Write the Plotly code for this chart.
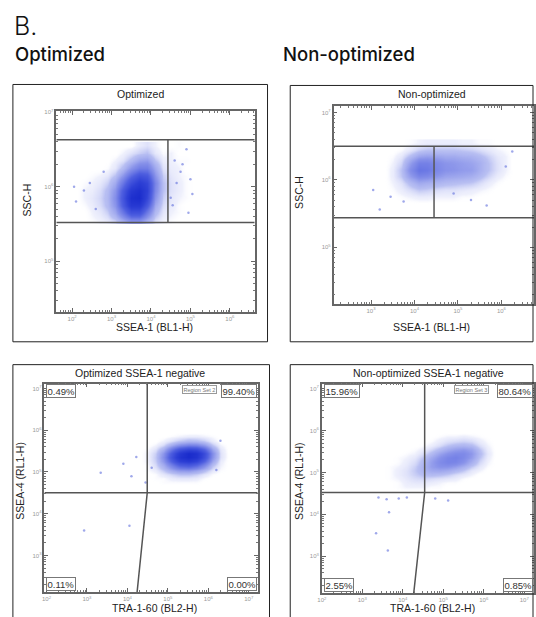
import plotly.graph_objects as go

W, H = 536, 617

# ---------------- values (log10 units) ----------------
# Panel A: Optimized, SSC-H vs SSEA-1 (BL1-H) -- event density, rows listed top -> bottom
opt_ssea1_x_edges = [2.0, 2.2, 2.4, 2.6, 2.8, 3.0, 3.2, 3.4, 3.6, 3.8, 4.0, 4.2, 4.4, 4.6, 4.8, 5.0, 5.2]
opt_ssea1_y_edges = [6.6, 6.5, 6.4, 6.3, 6.2, 6.1, 6.0, 5.9, 5.8, 5.7, 5.6, 5.5]
opt_ssea1_density = [
    [0, 0, 0, 0, 0, 0, 0, 0, 0.3, 0.5, 0.2, 0, 0, 0.1, 0, 0],
    [0, 0, 0, 0, 0, 0, 0.2, 0.5, 0.8, 1.0, 0.4, 0.1, 0.2, 0, 0, 0],
    [0, 0, 0, 0, 0, 0.2, 0.5, 1.2, 2.0, 2.2, 1.0, 0.3, 0.2, 0.1, 0.1, 0],
    [0, 0, 0, 0, 0.1, 0.4, 1.2, 2.5, 3.5, 3.5, 1.8, 0.5, 0.3, 0.2, 0, 0],
    [0, 0, 0.1, 0.2, 0.4, 1.0, 2.5, 4.5, 6.0, 5.5, 2.5, 0.8, 0.4, 0.2, 0.1, 0],
    [0, 0.1, 0.2, 0.4, 0.8, 1.8, 4.0, 6.5, 8.0, 7.0, 3.2, 1.0, 0.5, 0.3, 0.1, 0],
    [0, 0.2, 0.3, 0.6, 1.2, 2.5, 5.5, 8.5, 9.5, 7.5, 3.0, 1.0, 0.5, 0.3, 0.1, 0],
    [0, 0.2, 0.4, 0.7, 1.3, 2.8, 6.0, 9.5, 10, 7.0, 2.5, 0.8, 0.4, 0.2, 0.1, 0],
    [0, 0.1, 0.3, 0.6, 1.2, 2.5, 5.5, 8.5, 8.5, 5.5, 1.8, 0.6, 0.3, 0.1, 0, 0],
    [0, 0, 0.2, 0.4, 0.8, 1.8, 3.8, 6.0, 6.0, 3.5, 1.2, 0.4, 0.2, 0.1, 0, 0],
    [0, 0, 0.1, 0.2, 0.4, 0.8, 1.8, 2.8, 2.8, 1.6, 0.6, 0.2, 0.1, 0, 0, 0],
]
opt_ssea1_sparse_x = [2.05, 2.1, 2.3, 2.45, 2.6, 2.8, 4.5, 4.6, 4.65, 4.75, 4.8, 4.9, 4.95, 5.0, 5.05, 4.55]
opt_ssea1_sparse_y = [6.0, 5.8, 5.95, 6.05, 5.7, 6.2, 5.85, 6.35, 6.05, 6.2, 6.3, 6.5, 5.65, 6.1, 5.9, 5.75]
opt_gate_x = 4.43
opt_gate_y = [5.52, 6.63]

# Panel B: Non-optimized, SSC-H vs SSEA-1 (BL1-H)
non_ssea1_x_edges = [3.2, 3.4, 3.6, 3.8, 4.0, 4.2, 4.4, 4.6, 4.8, 5.0, 5.2, 5.4, 5.6, 5.8, 6.0, 6.2, 6.4]
non_ssea1_y_edges = [6.6, 6.5, 6.4, 6.3, 6.2, 6.1, 6.0, 5.9, 5.8, 5.7, 5.6]
non_ssea1_density = [
    [0, 0, 0, 0.1, 0.2, 0.3, 0.3, 0.3, 0.3, 0.2, 0.2, 0.1, 0.1, 0, 0, 0],
    [0, 0, 0.1, 0.4, 0.8, 1.0, 1.0, 1.0, 1.0, 0.9, 0.8, 0.6, 0.4, 0.2, 0.1, 0],
    [0, 0.1, 0.4, 1.2, 2.0, 2.2, 2.0, 1.8, 1.8, 1.6, 1.5, 1.2, 0.8, 0.4, 0.2, 0],
    [0, 0.2, 0.7, 2.2, 3.4, 3.4, 2.9, 2.5, 2.4, 2.2, 2.0, 1.6, 1.0, 0.5, 0.2, 0],
    [0, 0.3, 1.0, 2.8, 4.0, 3.8, 3.1, 2.6, 2.5, 2.3, 2.2, 1.6, 1.0, 0.5, 0.2, 0],
    [0, 0.3, 0.9, 2.2, 3.1, 2.9, 2.4, 2.0, 1.9, 1.8, 1.6, 1.2, 0.7, 0.3, 0.1, 0],
    [0, 0.2, 0.5, 1.2, 1.8, 1.6, 1.4, 1.2, 1.1, 1.0, 0.9, 0.6, 0.3, 0.1, 0, 0],
    [0, 0.1, 0.3, 0.6, 0.9, 0.8, 0.6, 0.5, 0.5, 0.4, 0.3, 0.2, 0.1, 0, 0, 0],
    [0, 0, 0.1, 0.2, 0.3, 0.3, 0.2, 0.2, 0.2, 0.1, 0.1, 0, 0, 0, 0, 0],
    [0, 0, 0, 0, 0, 0, 0, 0, 0, 0, 0, 0, 0, 0, 0, 0],
]
non_ssea1_sparse_x = [3.05, 3.2, 3.45, 5.66, 6.25, 6.1, 5.3, 4.9, 3.75]
non_ssea1_sparse_y = [5.85, 5.56, 5.75, 5.62, 6.42, 6.2, 5.7, 5.8, 5.68]
non_gate_x = 4.45
non_gate_y = [5.44, 6.5]

# Panel C: Optimized SSEA-1 negative, SSEA-4 (RL1-H) vs TRA-1-60 (BL2-H)
opt_tra_x_edges = [4.2, 4.4, 4.6, 4.8, 5.0, 5.2, 5.4, 5.6, 5.8, 6.0, 6.2, 6.4, 6.6]
opt_tra_y_edges = [6.0, 5.9, 5.8, 5.7, 5.6, 5.5, 5.4, 5.3, 5.2, 5.1, 5.0, 4.9, 4.8, 4.7, 4.6]
opt_tra_density = [
    [0, 0, 0, 0, 0, 0, 0, 0, 0, 0, 0, 0],
    [0, 0, 0, 0, 0.1, 0.2, 0.3, 0.3, 0.2, 0.1, 0, 0],
    [0, 0, 0, 0.2, 0.5, 0.9, 1.2, 1.1, 0.8, 0.3, 0, 0],
    [0, 0, 0.2, 0.7, 1.8, 3.0, 3.6, 3.4, 2.4, 1.0, 0.2, 0],
    [0, 0.1, 0.5, 1.6, 3.8, 6.0, 7.0, 6.6, 4.8, 2.0, 0.4, 0],
    [0, 0.2, 0.8, 2.5, 5.5, 8.5, 10, 9.2, 6.5, 2.8, 0.5, 0],
    [0, 0.2, 0.9, 2.8, 6.0, 9.0, 10, 9.0, 6.2, 2.6, 0.5, 0],
    [0, 0.2, 0.8, 2.4, 5.0, 7.5, 8.2, 7.2, 4.8, 1.9, 0.3, 0],
    [0, 0.1, 0.6, 1.6, 3.2, 4.8, 5.2, 4.4, 2.8, 1.0, 0.2, 0],
    [0, 0.1, 0.3, 0.9, 1.7, 2.4, 2.5, 2.0, 1.2, 0.4, 0.1, 0],
    [0, 0, 0.1, 0.4, 0.7, 1.0, 1.0, 0.8, 0.4, 0.1, 0, 0],
    [0, 0, 0.1, 0.1, 0.3, 0.4, 0.4, 0.3, 0.1, 0, 0, 0],
    [0, 0, 0, 0.1, 0.1, 0.1, 0.1, 0.1, 0, 0, 0, 0],
    [0, 0, 0, 0, 0, 0, 0, 0, 0, 0, 0, 0],
]
opt_tra_sparse_x = [3.34, 4.1, 2.93, 4.05, 4.22, 3.9, 4.45, 6.3, 4.6, 6.2]
opt_tra_sparse_y = [4.98, 4.9, 3.6, 3.71, 5.36, 5.2, 4.75, 5.75, 5.1, 5.05]
opt_quad_y = 4.5
opt_quad_x = [4.49, 4.24]           # divider at the horizontal line, at the bottom axis
opt_quad_pct = ["0.49%", "99.40%", "0.11%", "0.00%"]

# Panel D: Non-optimized SSEA-1 negative
non_tra_x_edges = [3.4, 3.6, 3.8, 4.0, 4.2, 4.4, 4.6, 4.8, 5.0, 5.2, 5.4, 5.6, 5.8, 6.0, 6.2, 6.4]
non_tra_y_edges = [6.0, 5.9, 5.8, 5.7, 5.6, 5.5, 5.4, 5.3, 5.2, 5.1, 5.0, 4.9, 4.8, 4.7, 4.6, 4.5]
non_tra_density = [
    [0, 0, 0, 0, 0, 0, 0, 0, 0, 0, 0, 0, 0, 0, 0],
    [0, 0, 0, 0, 0, 0, 0, 0.1, 0.2, 0.2, 0.3, 0.2, 0.1, 0, 0],
    [0, 0, 0, 0, 0, 0, 0.1, 0.3, 0.5, 0.6, 0.7, 0.6, 0.3, 0.1, 0],
    [0, 0, 0, 0, 0, 0.1, 0.3, 0.6, 1.0, 1.3, 1.4, 1.2, 0.6, 0.2, 0],
    [0, 0, 0, 0, 0.1, 0.3, 0.7, 1.2, 1.8, 2.2, 2.4, 2.0, 1.0, 0.3, 0],
    [0, 0, 0, 0.1, 0.2, 0.6, 1.2, 2.0, 2.6, 3.0, 3.0, 2.4, 1.2, 0.4, 0],
    [0, 0, 0.1, 0.2, 0.4, 1.0, 1.8, 2.6, 3.2, 3.4, 3.0, 2.2, 1.0, 0.3, 0],
    [0, 0, 0.1, 0.3, 0.6, 1.3, 2.2, 2.9, 3.3, 3.2, 2.6, 1.6, 0.7, 0.2, 0],
    [0, 0.1, 0.2, 0.4, 0.8, 1.5, 2.2, 2.6, 2.6, 2.2, 1.6, 0.9, 0.4, 0.1, 0],
    [0, 0.1, 0.3, 0.5, 0.9, 1.4, 1.8, 1.9, 1.7, 1.3, 0.9, 0.4, 0.2, 0, 0],
    [0, 0.1, 0.3, 0.5, 0.8, 1.1, 1.2, 1.1, 0.9, 0.6, 0.4, 0.2, 0, 0, 0],
    [0, 0.1, 0.2, 0.4, 0.6, 0.7, 0.6, 0.5, 0.4, 0.3, 0.1, 0, 0, 0, 0],
    [0, 0, 0.1, 0.3, 0.4, 0.4, 0.3, 0.2, 0.1, 0.1, 0, 0, 0, 0, 0],
    [0, 0, 0.1, 0.2, 0.2, 0.2, 0.1, 0.1, 0, 0, 0, 0, 0, 0, 0],
    [0, 0, 0, 0, 0, 0, 0, 0, 0, 0, 0, 0, 0, 0, 0],
]
non_tra_sparse_x = [3.4, 3.6, 3.9, 4.1, 3.66, 3.34, 3.63, 5.12, 4.8]
non_tra_sparse_y = [4.4, 4.36, 4.38, 4.4, 4.05, 3.55, 3.14, 4.33, 4.38]
non_quad_y = 4.52
non_quad_x = [4.54, 4.27]
non_quad_pct = ["15.96%", "80.64%", "2.55%", "0.85%"]

panel_titles = ["Optimized", "Non-optimized", "Optimized SSEA-1 negative", "Non-optimized SSEA-1 negative"]
x_titles = ["SSEA-1 (BL1-H)", "SSEA-1 (BL1-H)", "TRA-1-60 (BL2-H)", "TRA-1-60 (BL2-H)"]
y_titles = ["SSC-H", "SSC-H", "SSEA-4 (RL1-H)", "SSEA-4 (RL1-H)"]
x_tick_exps = [[2, 3, 4, 5, 6], [3, 4, 5, 6], [2, 3, 4, 5, 6, 7], [2, 3, 4, 5, 6, 7]]
y_tick_exps = [[5, 6, 7], [5, 6, 7], [3, 4, 5, 6, 7], [3, 4, 5, 6, 7]]

# ---------------- layout geometry (pixels) ----------------
def px(x):
    return x / W


def py(y):
    return 1 - y / H


plot_boxes = [(52, 253, 108, 310), (333, 536, 103, 302), (40, 256, 382, 592), (321, 536, 382, 593)]
x_ranges = [[1.6, 6.63], [2.14, 6.75], [1.95, 7.22], [2.0, 7.24]]
y_ranges = [[4.32, 7.01], [4.16, 7.09], [2.12, 7.12], [2.12, 7.12]]
frames = [(8, 266, 81, 340), (289, 535, 82, 340), (8, 268, 363, 620), (289, 535, 363, 620)]
title_pos = [(137, 91), (433, 91), (137, 371), (429, 371)]
xt_pos = [(151, 325), (432, 325), (151, 608), (433, 608)]
yt_pos = [(22, 197), (298, 190), (15, 480), (298, 480)]

cscale = [
    [0.0, "rgba(255,255,255,0)"],
    [0.02, "rgba(220,223,249,0.45)"],
    [0.1, "rgba(172,180,240,0.85)"],
    [0.25, "#8a94ea"],
    [0.5, "#5060e0"],
    [0.75, "#2f41d6"],
    [1.0, "#1a2ccc"],
]

fig = go.Figure()

panels = [
    (opt_ssea1_x_edges, opt_ssea1_y_edges, opt_ssea1_density, opt_ssea1_sparse_x, opt_ssea1_sparse_y),
    (non_ssea1_x_edges, non_ssea1_y_edges, non_ssea1_density, non_ssea1_sparse_x, non_ssea1_sparse_y),
    (opt_tra_x_edges, opt_tra_y_edges, opt_tra_density, opt_tra_sparse_x, opt_tra_sparse_y),
    (non_tra_x_edges, non_tra_y_edges, non_tra_density, non_tra_sparse_x, non_tra_sparse_y),
]

for i, (xe, ye, dens, sx, sy) in enumerate(panels):
    xa = "x" if i == 0 else f"x{i+1}"
    ya = "y" if i == 0 else f"y{i+1}"
    fig.add_trace(go.Heatmap(
        x=[10 ** v for v in xe],
        y=[10 ** v for v in ye[::-1]],
        z=dens[::-1],
        zsmooth="best", colorscale=cscale, zmin=0, zmax=10,
        showscale=False, hoverinfo="skip", xaxis=xa, yaxis=ya,
    ))
    fig.add_trace(go.Scatter(
        x=[10 ** v for v in sx], y=[10 ** v for v in sy], mode="markers",
        marker=dict(size=2.5, color="rgba(95,110,220,0.6)"),
        hoverinfo="skip", showlegend=False, xaxis=xa, yaxis=ya,
    ))

# gate / quadrant lines drawn as line traces on the log axes
gate_line = dict(color="#555", width=1.5)


def add_line(xs, ys, xa, ya):
    fig.add_trace(go.Scatter(x=[10 ** v for v in xs], y=[10 ** v for v in ys], mode="lines",
                             line=gate_line, hoverinfo="skip", showlegend=False,
                             xaxis=xa, yaxis=ya, cliponaxis=True))


for i, (gx, gy) in enumerate([(opt_gate_x, opt_gate_y), (non_gate_x, non_gate_y)]):
    xa = "x" if i == 0 else "x2"
    ya = "y" if i == 0 else "y2"
    xr = x_ranges[i]
    for yv in gy:
        add_line(xr, [yv, yv], xa, ya)
    add_line([gx, gx], gy, xa, ya)

for i, (qy, qx) in enumerate([(opt_quad_y, opt_quad_x), (non_quad_y, non_quad_x)]):
    xa = f"x{i+3}"
    ya = f"y{i+3}"
    xr = x_ranges[i + 2]
    yr = y_ranges[i + 2]
    add_line(xr, [qy, qy], xa, ya)
    add_line([qx[0], qx[0], qx[1]], [yr[1], qy, yr[0]], xa, ya)

layout = dict(
    width=W, height=H, margin=dict(l=0, r=0, t=0, b=0),
    paper_bgcolor="white", plot_bgcolor="rgba(0,0,0,0)", showlegend=False,
    font=dict(family="Liberation Sans, Arial, sans-serif", color="#222"),
)

minor_vals = [k * 10 ** n for n in range(1, 8) for k in range(2, 10)]
for i in range(4):
    x0, x1, y0, y1 = plot_boxes[i]
    kx = "xaxis" if i == 0 else f"xaxis{i+1}"
    ky = "yaxis" if i == 0 else f"yaxis{i+1}"
    ya = "y" if i == 0 else f"y{i+1}"
    xa = "x" if i == 0 else f"x{i+1}"
    common = dict(
        type="log", showline=True, linecolor="#666", linewidth=1.5, mirror="allticks",
        ticks="inside", ticklen=4, tickcolor="#666", tickwidth=1, showgrid=False, zeroline=False,
        tickfont=dict(size=6, color="#9a9a9a"), fixedrange=True,
    )
    layout[kx] = dict(
        common, domain=[px(x0), px(x1)], range=x_ranges[i], anchor=ya,
        tickvals=[10 ** e for e in x_tick_exps[i]],
        ticktext=[f"10<sup>{e}</sup>" for e in x_tick_exps[i]],
        minor=dict(ticks="inside", ticklen=2, tickcolor="#777", tickvals=minor_vals, showgrid=False),
    )
    layout[ky] = dict(
        common, domain=[py(y1), py(y0)], range=y_ranges[i], anchor=xa,
        tickvals=[10 ** e for e in y_tick_exps[i]],
        ticktext=[f"10<sup>{e}</sup>" for e in y_tick_exps[i]],
        minor=dict(ticks="inside", ticklen=2, tickcolor="#777", tickvals=minor_vals, showgrid=False),
    )

fig.update_layout(**layout)

shapes = []
annos = []

# panel frames
for (x0, x1, y0, y1) in frames:
    shapes.append(dict(type="rect", xref="paper", yref="paper", x0=px(x0), x1=px(x1),
                       y0=py(y1), y1=py(y0), line=dict(color="#222", width=1)))

# quadrant percentages
for i, (pct, rs) in enumerate([(opt_quad_pct, "Region Set 2"), (non_quad_pct, "Region Set 3")]):
    xa = f"x{i+3}"
    ya = f"y{i+3}"
    box = dict(xref=f"{xa} domain", yref=f"{ya} domain", showarrow=False,
               font=dict(size=9.5, color="#333"), bordercolor="#777", borderwidth=1,
               borderpad=0.5, bgcolor="white")
    annos.append(dict(box, text=pct[0], x=0.008, y=0.998, xanchor="left", yanchor="top"))
    annos.append(dict(box, text=pct[1], x=0.995, y=0.998, xanchor="right", yanchor="top"))
    annos.append(dict(box, text=pct[2], x=0.008, y=0.004, xanchor="left", yanchor="bottom"))
    annos.append(dict(box, text=pct[3], x=0.995, y=0.004, xanchor="right", yanchor="bottom"))
    rsx = [0.81, 0.79][i]
    annos.append(dict(xref=f"{xa} domain", yref=f"{ya} domain", showarrow=False, text=rs,
                      font=dict(size=5.5, color="#777"), bordercolor="#999", borderwidth=1,
                      borderpad=0.5, bgcolor="white", x=rsx, y=0.995, xanchor="right", yanchor="top"))

for i in range(4):
    tx, ty = title_pos[i]
    annos.append(dict(xref="paper", yref="paper", x=px(tx), y=py(ty), text=panel_titles[i],
                      showarrow=False, font=dict(size=10.5, color="#222"), xanchor="center", yanchor="middle"))
    tx, ty = xt_pos[i]
    annos.append(dict(xref="paper", yref="paper", x=px(tx), y=py(ty), text=x_titles[i],
                      showarrow=False, font=dict(size=10.5, color="#222"), xanchor="center", yanchor="middle"))
    tx, ty = yt_pos[i]
    annos.append(dict(xref="paper", yref="paper", x=px(tx), y=py(ty), text=y_titles[i], textangle=-90,
                      showarrow=False, font=dict(size=10.5, color="#222"), xanchor="center", yanchor="middle"))

# header
annos.append(dict(xref="paper", yref="paper", x=px(7), y=py(22), text="B.", showarrow=False,
                  font=dict(family="Inter, Lato, sans-serif", size=25, color="#111", weight=300),
                  xanchor="left", yanchor="middle"))
annos.append(dict(xref="paper", yref="paper", x=px(8), y=py(50), text="Optimized", showarrow=False,
                  font=dict(family="Inter, Lato, sans-serif", size=18.5, color="#111", weight=500),
                  xanchor="left", yanchor="middle"))
annos.append(dict(xref="paper", yref="paper", x=px(280), y=py(50), text="Non-optimized", showarrow=False,
                  font=dict(family="Inter, Lato, sans-serif", size=18.5, color="#111", weight=500),
                  xanchor="left", yanchor="middle"))

fig.update_layout(shapes=shapes, annotations=annos)
fig.write_html("out.html", config={"displayModeBar": False},
               post_script="document.body.style.margin='0';document.body.style.overflow='hidden';")
